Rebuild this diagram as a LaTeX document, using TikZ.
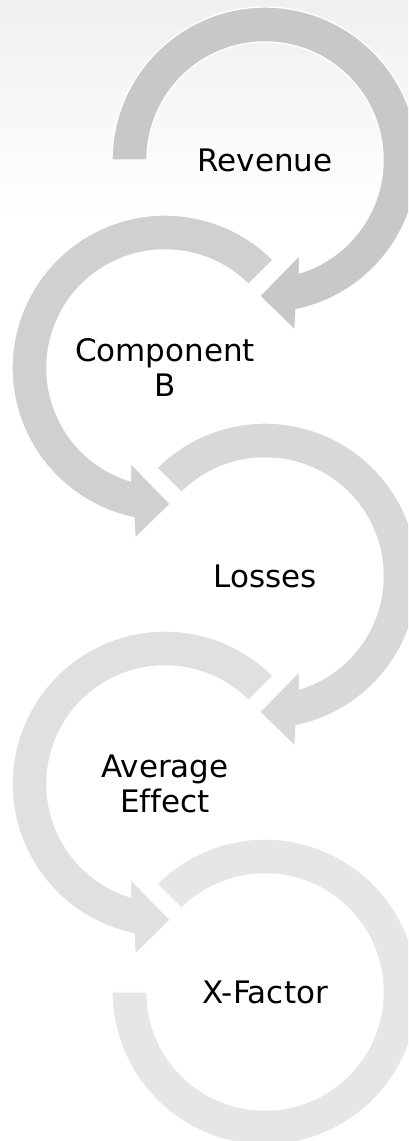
\documentclass[tikz,border=0pt]{standalone}
\usepackage{fontspec}
\setmainfont[Ligatures=NoCommon]{DejaVu Sans}
\definecolor{ringone}{HTML}{C8C8C8}
\definecolor{ringtwo}{HTML}{D0D0D0}
\definecolor{ringthree}{HTML}{D8D8D8}
\definecolor{ringfour}{HTML}{E0E0E0}
\definecolor{ringfive}{HTML}{E6E6E6}
\begin{document}
\begin{tikzpicture}[x=1pt,y=1pt,
  ring/.style={draw=white,line width=1.4pt,line join=miter},
  lbl/.style={font=\fontsize{31}{35}\selectfont,align=center,inner sep=0pt,text=black}]
\useasboundingbox (0,0) rectangle (408,1141);
\clip (0,0) rectangle (408,1141);
\fill[white] (0,0) rectangle (408,1141);
\shade[top color=black!6,bottom color=white] (0,920) rectangle (408,1141);

% circle 1 (right, arrow)
\begin{scope}[shift={(265,981)}]
  \filldraw[ring,fill=ringone] (180:153) arc[start angle=180,end angle=-78.25,radius=153]
    -- (30,-170.5) -- (-5.5,-136) -- (34.5,-95) -- (-73:118)
    arc[start angle=-73,end angle=180,radius=118] -- cycle;
\end{scope}
% circle 2 (left, arrow)
\begin{scope}[shift={(165,773)}]
  \filldraw[ring,fill=ringtwo] (45:153) arc[start angle=45,end angle=258.25,radius=153]
    -- (-30,-170.5) -- (5.5,-136) -- (-34.5,-95) -- (253:118)
    arc[start angle=253,end angle=45,radius=118] -- cycle;
\end{scope}
% circle 3 (right, arrow)
\begin{scope}[shift={(265,565)}]
  \filldraw[ring,fill=ringthree] (135:153) arc[start angle=135,end angle=-78.25,radius=153]
    -- (30,-170.5) -- (-5.5,-136) -- (34.5,-95) -- (-73:118)
    arc[start angle=-73,end angle=135,radius=118] -- cycle;
\end{scope}
% circle 4 (left, arrow)
\begin{scope}[shift={(165,357)}]
  \filldraw[ring,fill=ringfour] (45:153) arc[start angle=45,end angle=258.25,radius=153]
    -- (-30,-170.5) -- (5.5,-136) -- (-34.5,-95) -- (253:118)
    arc[start angle=253,end angle=45,radius=118] -- cycle;
\end{scope}
% circle 5 (right, no arrow)
\begin{scope}[shift={(265,149)}]
  \filldraw[ring,fill=ringfive] (135:153) arc[start angle=135,end angle=-180,radius=153]
    -- (-180:118) arc[start angle=-180,end angle=135,radius=118] -- cycle;
\end{scope}

\node[lbl] (revenue) at (265,981) {Revenue};
\node[lbl] (compb) at (165,773) {Component\\B};
\node[lbl] (losses) at (265,565) {Losses};
\node[lbl] (avgeff) at (165,357) {Average\\Effect};
\node[lbl] (xfactor) at (265,149) {X-Factor};
\end{tikzpicture}
\end{document}
